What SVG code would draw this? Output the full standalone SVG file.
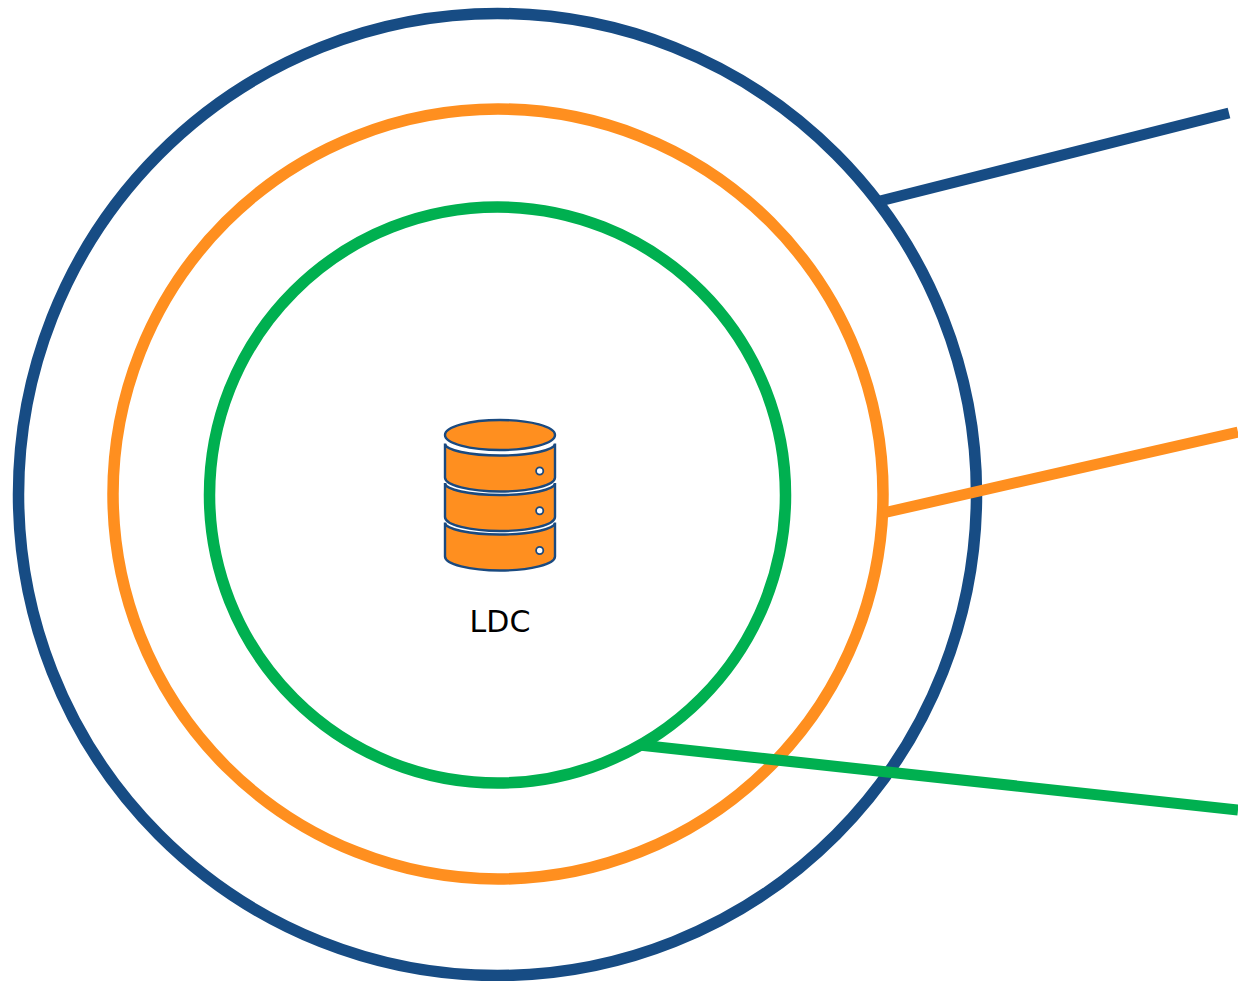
<svg xmlns="http://www.w3.org/2000/svg" width="1238" height="981" viewBox="0 0 1238 981">
  <style>
    .ring { fill: none; stroke-width: 11.5; }
    .blue { stroke: #174C84; }
    .orange { stroke: #FF8F1F; }
    .green { stroke: #00B050; }
    .conn { fill: none; stroke-width: 11; stroke-linecap: butt; }
    .db { fill: #FF8F1F; stroke: #1A4A80; stroke-width: 2.4; }
    .dot { fill: #FFFFFF; stroke: #1A4A80; stroke-width: 1.8; }
    .label { font-family: "DejaVu Sans", Verdana, sans-serif; font-size: 30px; fill: #000000; }
  </style>
  <defs>
    <path id="band" d="M445,0 A55,12 0 0 0 555,0 L555,34 A55,14 0 0 1 445,34 Z"/>
  </defs>
  <rect x="0" y="0" width="1238" height="981" fill="#FFFFFF"/>
  <g id="ring-outer">
    <ellipse class="ring blue" cx="497.5" cy="494.5" rx="479" ry="481"/>
  </g>
  <g id="ring-middle">
    <ellipse class="ring orange" cx="498" cy="494" rx="385" ry="385"/>
  </g>
  <g id="ring-inner">
    <ellipse class="ring green" cx="497.5" cy="495" rx="288" ry="288"/>
  </g>
  <g id="connectors">
    <line class="conn blue" x1="880" y1="201" x2="1229" y2="113"/>
    <line class="conn orange" x1="883" y1="513" x2="1238" y2="432"/>
    <line class="conn green" x1="639" y1="745" x2="1238" y2="810"/>
  </g>
  <g id="ldc">
    <ellipse class="db" cx="500" cy="435" rx="55" ry="15"/>
    <use href="#band" class="db" transform="translate(0,443.5)"/>
    <circle class="dot" cx="539.7" cy="471" r="3.6"/>
    <use href="#band" class="db" transform="translate(0,483)"/>
    <circle class="dot" cx="539.7" cy="510.7" r="3.6"/>
    <use href="#band" class="db" transform="translate(0,522.5)"/>
    <circle class="dot" cx="539.7" cy="550.5" r="3.6"/>
    <text class="label" x="500" y="632" text-anchor="middle">LDC</text>
  </g>
</svg>
